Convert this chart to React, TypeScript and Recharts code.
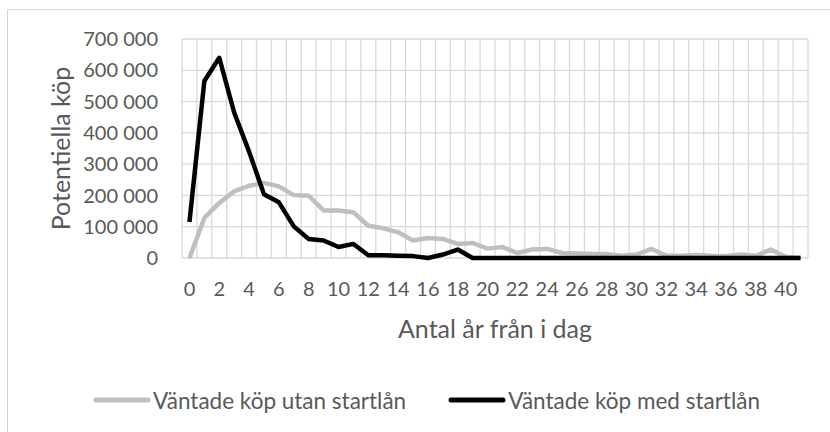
import { LineChart, Line, XAxis, YAxis, CartesianGrid, Legend } from "recharts";

const years = [
  0, 1, 2, 3, 4, 5, 6, 7, 8, 9, 10, 11, 12, 13, 14, 15, 16, 17, 18, 19, 20,
  21, 22, 23, 24, 25, 26, 27, 28, 29, 30, 31, 32, 33, 34, 35, 36, 37, 38, 39,
  40, 41,
];

const utanStartlan = [
  0, 128000, 176000, 213000, 231000, 240000, 229000, 201000, 199000, 152000,
  152000, 146000, 103000, 95000, 82000, 56000, 64000, 61000, 45000, 48000,
  30000, 35000, 16000, 27000, 29000, 16000, 14000, 13000, 12000, 7000, 11000,
  29000, 7000, 7000, 10000, 7000, 6000, 11000, 7000, 27000, 4000, 0,
];

const medStartlan = [
  115000, 566000, 640000, 465000, 340000, 204000, 178000, 101000, 61000,
  56000, 35000, 45000, 9000, 9000, 7000, 6000, 0, 11000, 27000, 0, 0, 0, 0, 0,
  0, 0, 0, 0, 0, 0, 0, 0, 0, 0, 0, 0, 0, 0, 0, 0, 0, 0,
];

const xTicks = [0, 2, 4, 6, 8, 10, 12, 14, 16, 18, 20, 22, 24, 26, 28, 30, 32, 34, 36, 38, 40];
const yTicks = [0, 100000, 200000, 300000, 400000, 500000, 600000, 700000];

const SERIES = [
  { key: "utan", name: "Väntade köp utan startlån", color: "#bfbfbf" },
  { key: "med", name: "Väntade köp med startlån", color: "#000000" },
];

const FONT = "Lato, 'Open Sans', sans-serif";
const TEXT = "#595959";
const GRID = "#d9d9d9";

const data = years.map((y, i) => ({
  year: y,
  utan: utanStartlan[i],
  med: medStartlan[i],
}));

const fmt = (v: number) => String(v).replace(/\B(?=(\d{3})+(?!\d))/g, " ");

function LegendContent() {
  return (
    <div
      style={{
        display: "flex",
        justifyContent: "center",
        alignItems: "center",
        gap: 42,
        height: 30,
        fontFamily: FONT,
        fontSize: 22.5,
        color: TEXT,
      }}
    >
      {SERIES.map((s) => (
        <div key={s.key} style={{ display: "flex", alignItems: "center" }}>
          <svg width={58} height={10} style={{ marginRight: 2 }}>
            <line x1={3} y1={5} x2={55} y2={5} stroke={s.color} strokeWidth={5} strokeLinecap="round" />
          </svg>
          <span>{s.name}</span>
        </div>
      ))}
    </div>
  );
}

export default function App() {
  return (
    <div style={{ position: "absolute", left: 0, top: 0, width: 830, height: 432, overflow: "hidden", background: "#fff" }}>
      <div
        style={{
          position: "absolute",
          left: 7,
          top: 9,
          width: 900,
          height: 460,
          border: "1px solid #d4d4d4",
        }}
      />
      <LineChart
        width={830}
        height={432}
        data={data}
        margin={{ top: 39, right: 22, bottom: 17, left: 0 }}
        style={{ fontFamily: FONT }}
      >
        <CartesianGrid
          stroke={GRID}
          strokeWidth={1.3}
          verticalCoordinatesGenerator={({ offset }: any) =>
            Array.from({ length: years.length + 1 }, (_, k) => offset.left + (offset.width * k) / years.length)
          }
        />
        <XAxis
          dataKey="year"
          type="number"
          domain={[-0.5, years.length - 0.5]}
          ticks={xTicks}
          interval={0}
          axisLine={false}
          tickLine={false}
          tickSize={0}
          tickMargin={24}
          height={127}
          tick={{ fill: TEXT, fontSize: 20, fontFamily: FONT }}
          label={{
            content: ({ viewBox }: any) => (
              <text
                x={viewBox.x + viewBox.width / 2}
                y={viewBox.y + 80}
                textAnchor="middle"
                fill={TEXT}
                fontSize={25}
                fontFamily={FONT}
              >
                Antal år från i dag
              </text>
            ),
          }}
        />
        <YAxis
          width={182}
          domain={[0, 700000]}
          ticks={yTicks}
          interval={0}
          axisLine={false}
          tickLine={false}
          tickSize={0}
          tickMargin={24}
          tickFormatter={fmt}
          tick={{ fill: TEXT, fontSize: 20, fontFamily: FONT }}
          label={{
            content: ({ viewBox }: any) => {
              const cx = 60;
              const cy = viewBox.y + viewBox.height / 2;
              return (
                <text
                  x={cx}
                  y={cy}
                  transform={`rotate(-90, ${cx}, ${cy})`}
                  textAnchor="middle"
                  dominantBaseline="central"
                  fill={TEXT}
                  fontSize={25}
                  fontFamily={FONT}
                >
                  Potentiella köp
                </text>
              );
            },
          }}
        />
        <Legend
          verticalAlign="bottom"
          content={<LegendContent />}
          wrapperStyle={{ left: 0, width: 853 }}
        />
        {SERIES.map((s) => (
          <Line
            key={s.key}
            dataKey={s.key}
            name={s.name}
            stroke={s.color}
            strokeWidth={4.5}
            dot={false}
            activeDot={false}
            strokeLinejoin="round"
            isAnimationActive={false}
          />
        ))}
      </LineChart>
    </div>
  );
}
